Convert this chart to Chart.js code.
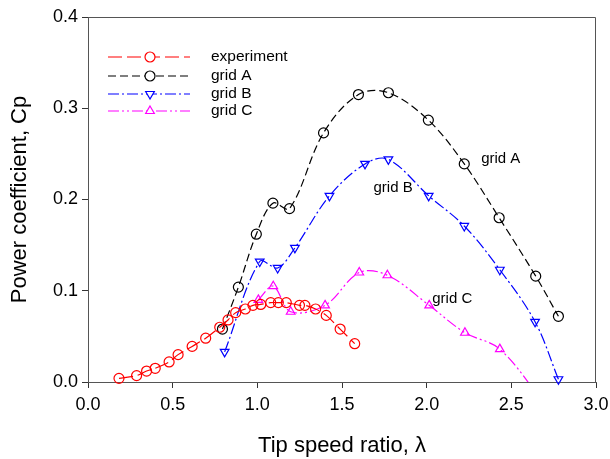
<!DOCTYPE html>
<html>
<head>
<meta charset="utf-8">
<script src="https://cdn.jsdelivr.net/npm/chart.js@4"></script>
<style>
html,body{margin:0;padding:0;background:#fff;}
#wrap{width:610px;height:459px;}
</style>
</head>
<body>
<div id="wrap"><canvas id="c" width="610" height="459"></canvas></div>
<script>
// ---- data ----
const expX = [0.183,0.287,0.346,0.397,0.479,0.532,0.615,0.695,0.778,0.827,0.872,0.929,0.974,1.020,1.079,1.124,1.171,1.249,1.281,1.344,1.407,1.489,1.575];
const expY = [0.004,0.007,0.012,0.015,0.022,0.030,0.039,0.048,0.060,0.068,0.076,0.080,0.084,0.085,0.087,0.087,0.087,0.084,0.084,0.080,0.073,0.058,0.042];

const gridAX = [0.794,0.888,0.994,1.092,1.190,1.391,1.597,1.774,2.010,2.222,2.428,2.644,2.778];
const gridAY = [0.058,0.104,0.162,0.196,0.190,0.273,0.315,0.317,0.287,0.239,0.180,0.116,0.072];

const gridBX = [0.807,1.014,1.120,1.222,1.426,1.636,1.774,2.012,2.222,2.432,2.640,2.778];
const gridBY = [0.033,0.132,0.125,0.147,0.204,0.239,0.244,0.204,0.171,0.123,0.066,0.003];

const gridCX = [1.006,1.094,1.197,1.400,1.602,1.768,2.015,2.226,2.432,2.700];
const gridCY = [0.090,0.105,0.077,0.084,0.120,0.117,0.084,0.054,0.036,-0.025];

const xTicks = [0.0,0.5,1.0,1.5,2.0,2.5,3.0];
const yTicks = [0.0,0.1,0.2,0.3,0.4];

const seriesNames = ['experiment','grid A','grid B','grid C'];
const curveLabels = [
  {text:'grid A', x:2.322, y:0.244},
  {text:'grid B', x:1.686, y:0.213},
  {text:'grid C', x:2.033, y:0.091}
];

const pts = (xs, ys) => xs.map((x,i)=>({x:x, y:ys[i]}));

const FONT = '"Liberation Sans", Arial, sans-serif';

const legendPlugin = {
  id:'customLegend',
  afterDatasetsDraw(chart){
    const ctx = chart.ctx;
    const ca = chart.chartArea;
    // frame
    ctx.save();
    ctx.strokeStyle = '#555';
    ctx.lineWidth = 1;
    ctx.beginPath();
    ctx.moveTo(ca.left, ca.top+0.5);
    ctx.lineTo(ca.right-0.5, ca.top+0.5);
    ctx.lineTo(ca.right-0.5, ca.bottom);
    ctx.stroke();
    ctx.restore();

    // legend
    const x0 = 108, x1 = 190, xm = 150, tx = 211;
    const rows = [57, 76, 94, 111];
    chart.data.datasets.forEach((ds, i) => {
      const y = rows[i];
      ctx.save();
      ctx.strokeStyle = ds.borderColor;
      ctx.lineWidth = ds.borderWidth;
      ctx.setLineDash(ds.borderDash || []);
      ctx.beginPath();
      ctx.moveTo(x0, y); ctx.lineTo(x1, y);
      ctx.stroke();
      ctx.setLineDash([]);
      ctx.fillStyle = '#fff';
      ctx.strokeStyle = ds.pointBorderColor;
      ctx.lineWidth = 1.2;
      Chart.helpers.drawPoint(ctx, {pointStyle: ds.pointStyle, radius: 5, rotation: ds.pointRotation || 0, borderWidth: 1.2}, xm, y);
      ctx.fillStyle = '#000';
      ctx.font = '15.5px ' + FONT;
      ctx.textBaseline = 'middle';
      ctx.textAlign = 'left';
      ctx.fillText(seriesNames[i], tx, y);
      ctx.restore();
    });

    // curve labels
    const xs = chart.scales.x, ys = chart.scales.y;
    ctx.save();
    ctx.fillStyle = '#000';
    ctx.font = '15px ' + FONT;
    ctx.textBaseline = 'middle';
    ctx.textAlign = 'left';
    curveLabels.forEach(l => ctx.fillText(l.text, xs.getPixelForValue(l.x), ys.getPixelForValue(l.y)));
    ctx.restore();
  }
};

const common = {
  showLine: true,
  tension: 0.35,
  borderWidth: 1.2,
  pointRadius: 5,
  pointBorderWidth: 1.2,
  pointBackgroundColor: 'rgba(0,0,0,0)',
  clip: 12
};

new Chart(document.getElementById('c'), {
  type: 'scatter',
  data: {
    datasets: [
      Object.assign({}, common, {
        label: seriesNames[0], data: pts(expX, expY),
        borderColor: '#ff0000', pointBorderColor: '#ff0000',
        borderDash: [14,5], pointStyle: 'circle', tension: 0.3
      }),
      Object.assign({}, common, {
        label: seriesNames[1], data: pts(gridAX, gridAY),
        borderColor: '#000000', pointBorderColor: '#000000',
        borderDash: [8,4], pointStyle: 'circle'
      }),
      Object.assign({}, common, {
        label: seriesNames[2], data: pts(gridBX, gridBY),
        borderColor: '#0000ff', pointBorderColor: '#0000ff',
        borderDash: [11,3,2,3], pointStyle: 'triangle', pointRotation: 180
      }),
      Object.assign({}, common, {
        label: seriesNames[3], data: pts(gridCX, gridCY),
        borderColor: '#ff00ff', pointBorderColor: '#ff00ff',
        borderDash: [11,3,2,3,2,3], pointStyle: 'triangle',
        pointRadius: gridCY.map(v => v < 0 ? 0 : 5),
        clip: {left:12, top:12, right:12, bottom:0}
      })
    ]
  },
  options: {
    responsive: false,
    animation: false,
    events: [],
    layout: { padding: {top:17, right:14, left:0, bottom:0} },
    plugins: { legend:{display:false}, tooltip:{enabled:false} },
    scales: {
      x: {
        type:'linear', min:0, max:3,
        afterBuildTicks(s){ s.ticks = xTicks.map(v=>({value:v})); },
        afterFit(s){ s.height = 77; s.paddingRight = 0; s.paddingLeft = 0; },
        grid:{ drawOnChartArea:false, drawTicks:true, tickLength:6, color:'#555', tickColor:'#333' },
        border:{ color:'#555', width:1 },
        ticks:{ color:'#000', font:{family:FONT, size:18}, padding:6, maxRotation:0,
          callback:v=>Number(v).toFixed(1) },
        title:{ display:true, text:'Tip speed ratio, \u03bb', color:'#000',
          font:{family:FONT, size:22}, padding:{top:0,bottom:0} }
      },
      y: {
        type:'linear', min:0, max:0.4,
        afterBuildTicks(s){ s.ticks = yTicks.map(v=>({value:v})); },
        afterFit(s){ s.width = 88; s.paddingTop = 0; s.paddingBottom = 0; },
        grid:{ drawOnChartArea:false, drawTicks:true, tickLength:6, color:'#555', tickColor:'#333' },
        border:{ color:'#555', width:1 },
        ticks:{ color:'#000', font:{family:FONT, size:18}, padding:4,
          callback:v=>Number(v).toFixed(1) },
        title:{ display:true, text:'Power coefficient, Cp', color:'#000',
          font:{family:FONT, size:22}, padding:{top:7,bottom:0} }
      }
    }
  },
  plugins:[legendPlugin]
});
</script>
</body>
</html>
